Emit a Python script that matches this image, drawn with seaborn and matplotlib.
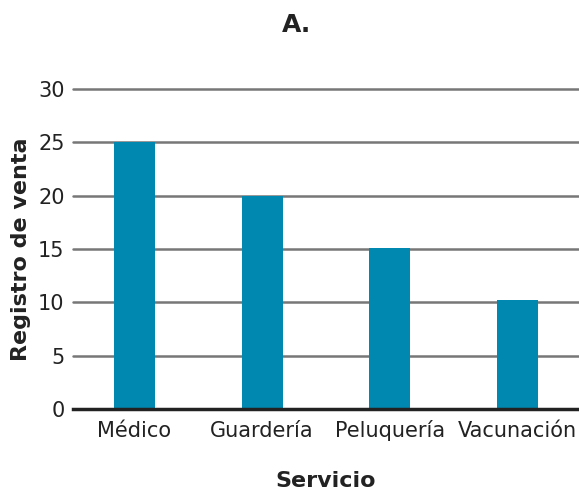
import matplotlib
matplotlib.use("Agg")
import matplotlib.pyplot as plt
import seaborn as sns
import pandas as pd

categorias = ["Médico", "Guardería", "Peluquería", "Vacunación"]
valores = [25, 20, 15.1, 10.2]
yticks = [0, 5, 10, 15, 20, 25, 30]

sns.set_theme(style="white")
plt.rcParams['font.family'] = ['DejaVu Sans']

df = pd.DataFrame({"Servicio": categorias, "Registro de venta": valores})

fig = plt.figure(figsize=(5.79, 4.95), dpi=100)
ax = fig.add_axes([0.126, 0.174, 0.874, 0.646])
for y in yticks[1:]:
    ax.axhline(y, color="#777777", lw=1.8, zorder=0, clip_on=False)
sns.barplot(data=df, x="Servicio", y="Registro de venta", color="#0088b0",
            width=0.32, saturation=1, ax=ax, linewidth=0, edgecolor="none")
for p in ax.patches:
    p.set_zorder(2)
ax.set_xlim(-0.48, 3.48)
ax.set_ylim(0, 30)
ax.set_yticks(yticks)
ax.tick_params(axis="y", labelsize=15, colors="#222222", length=0, pad=6)
ax.tick_params(axis="x", labelsize=15, colors="#222222", length=0, pad=20)
for lab in ax.get_xticklabels():
    lab.set_va("baseline")
for s in ["top", "right", "left"]:
    ax.spines[s].set_visible(False)
ax.spines["bottom"].set_color("#222222")
ax.spines["bottom"].set_linewidth(2.5)
ax.spines["bottom"].set_zorder(3)
ax.set_xlabel("Servicio", fontsize=16, fontweight="bold", color="#222222", labelpad=22)
ax.set_ylabel("Registro de venta", fontsize=16, fontweight="bold", color="#222222", labelpad=5)
fig.text(0.512, 0.95, "A.", ha="center", va="center", fontsize=18, fontweight="bold", color="#222222")
fig.savefig("out.png", dpi=100)
